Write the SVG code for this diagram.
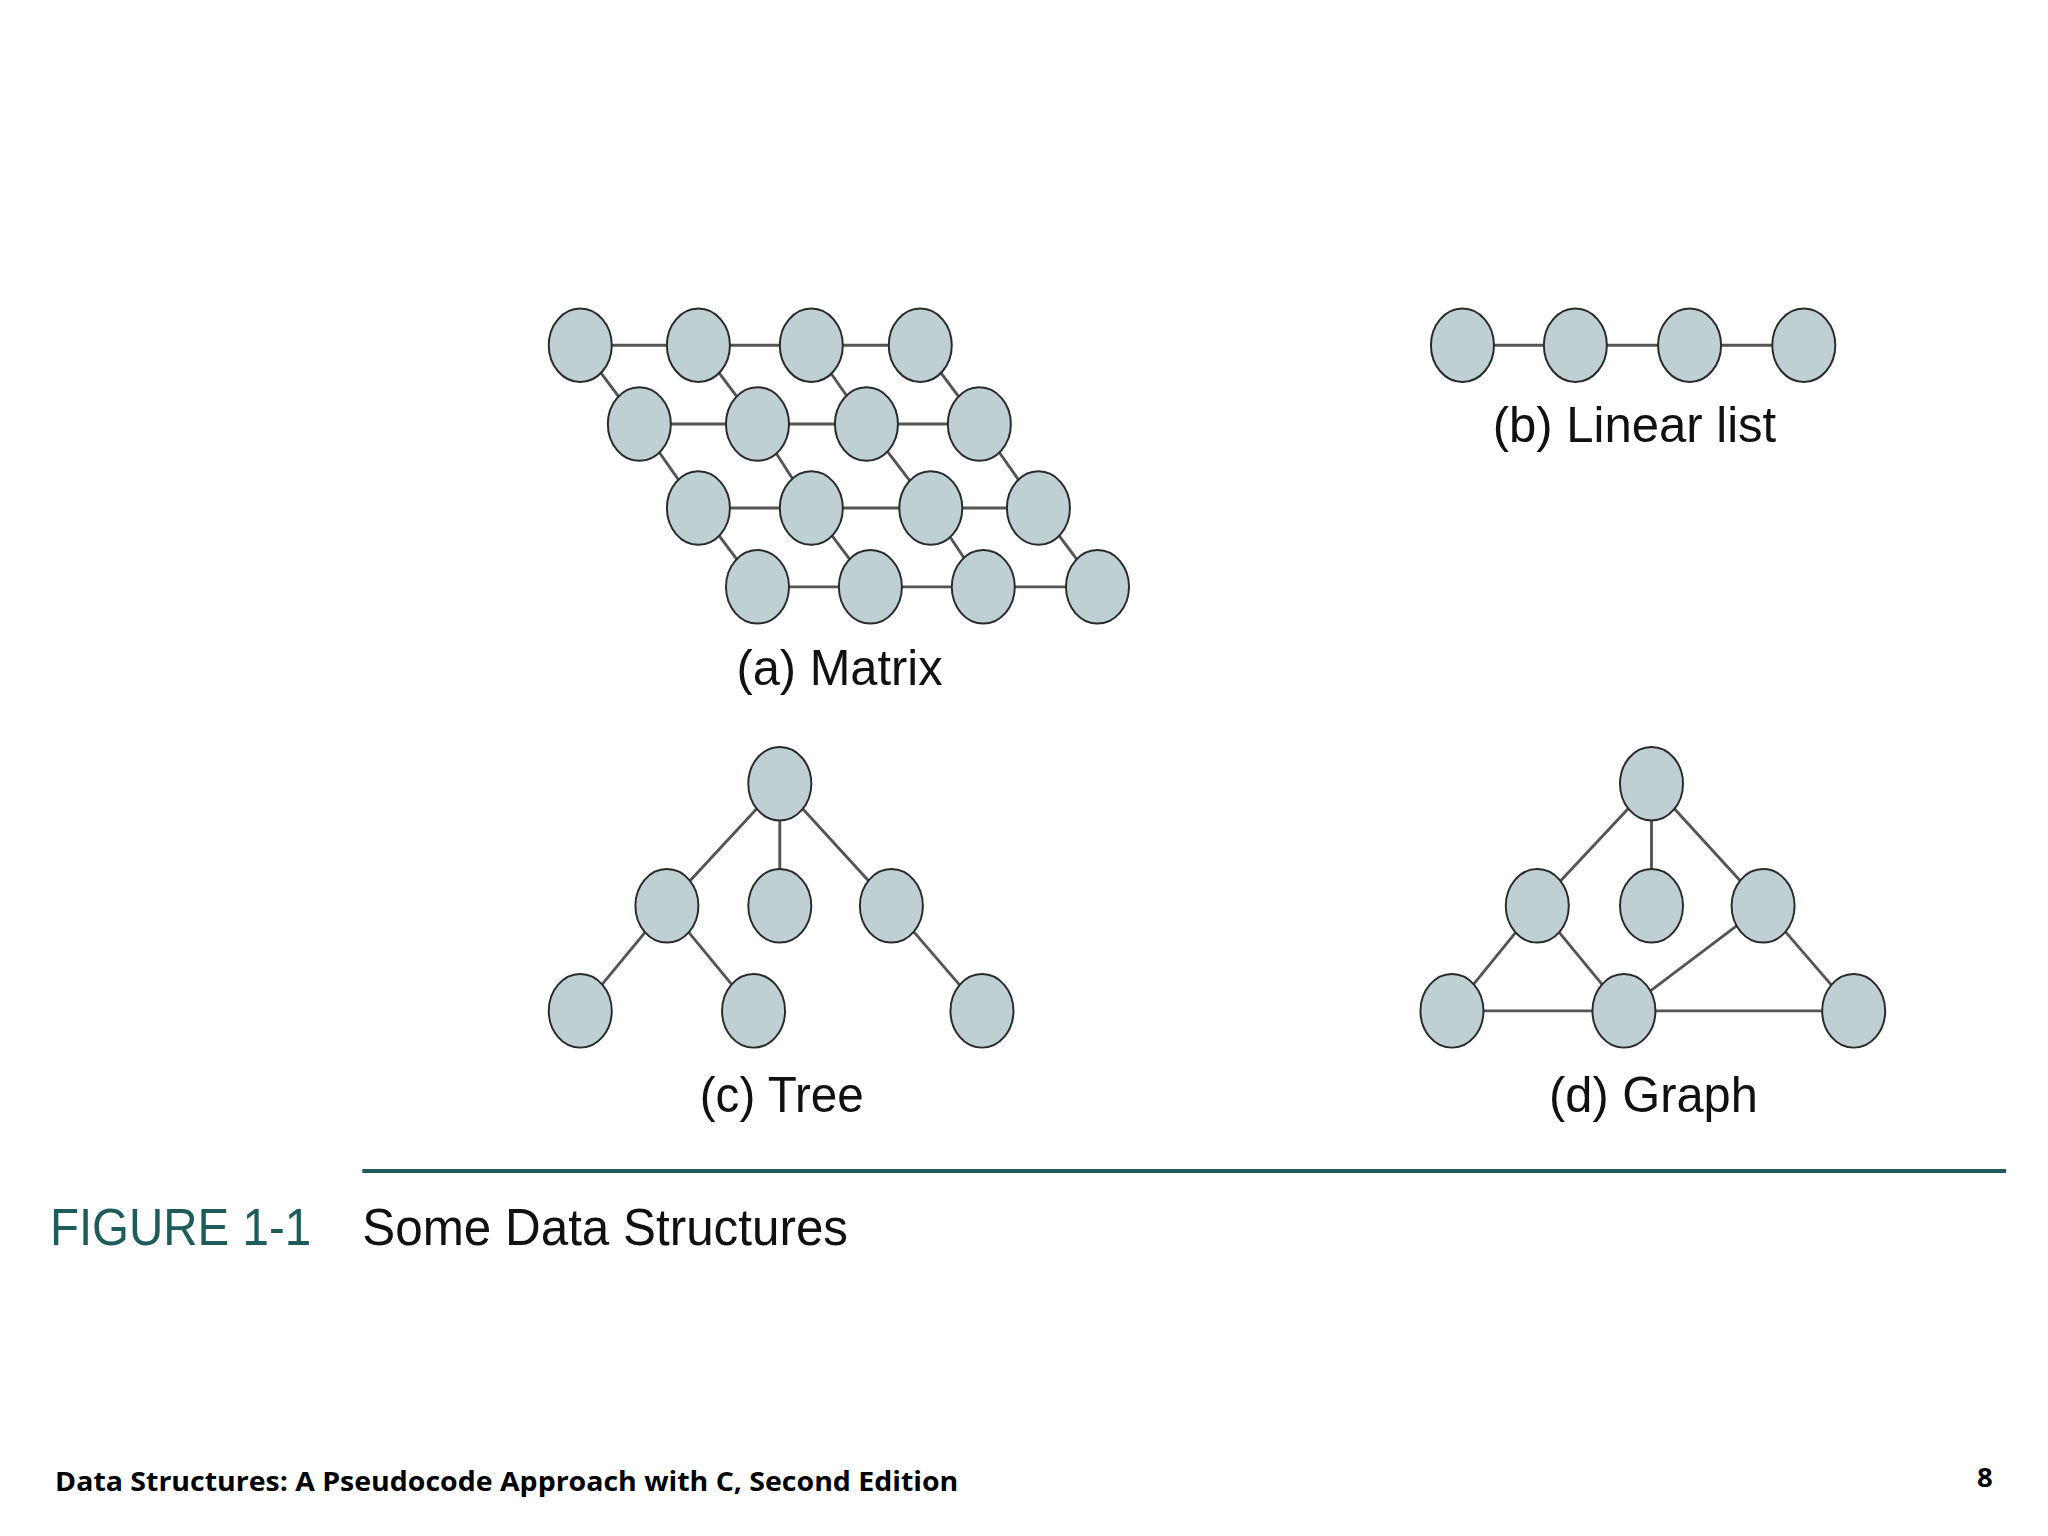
<svg xmlns="http://www.w3.org/2000/svg" width="2048" height="1536" viewBox="0 0 2048 1536">
<style>
.n{fill:#bfd0d3;stroke:#2a2a2a;stroke-width:1.5}
.e{stroke:#555;stroke-width:2.2;fill:none}
.l{font-family:"Liberation Sans",Arial,sans-serif;font-size:38px;fill:#111}
.t{font-family:"Liberation Sans",Arial,sans-serif;font-size:40px}
.f{font-family:"Open Sans",sans-serif;font-weight:bold;font-size:21px;fill:#000}
</style>
<defs><ellipse id="nd" class="n" rx="24" ry="28"/></defs>
<rect width="2048" height="1536" fill="#fff"/>
<g transform="scale(1.3128)">
<g id="connectors">
<path class="e" d="M442 263H701M487 323H746M532 387H791M577 447H836
M442 263L487 323M532 263L577 323M618 263L660 323M701 263L746 323
M487 323L532 387M577 323L618 387M660 323L709 387M746 323L791 387
M532 387L577 447M618 387L663 447M709 387L749 447M791 387L836 447
M1114 263H1374
M594 597L508 690M594 597L594 690M594 597L679 690M508 690L442 770M508 690L574 770M679 690L748 770
M1258 597L1171 690M1258 597L1258 690M1258 597L1343 690M1171 690L1106 770M1171 690L1237 770M1343 690L1237 770M1343 690L1412 770M1106 770H1412"/>
</g>
<g id="matrix">
<use href="#nd" x="442" y="263"/><use href="#nd" x="532" y="263"/><use href="#nd" x="618" y="263"/><use href="#nd" x="701" y="263"/>
<use href="#nd" x="487" y="323"/><use href="#nd" x="577" y="323"/><use href="#nd" x="660" y="323"/><use href="#nd" x="746" y="323"/>
<use href="#nd" x="532" y="387"/><use href="#nd" x="618" y="387"/><use href="#nd" x="709" y="387"/><use href="#nd" x="791" y="387"/>
<use href="#nd" x="577" y="447"/><use href="#nd" x="663" y="447"/><use href="#nd" x="749" y="447"/><use href="#nd" x="836" y="447"/>
<text class="l" x="561" y="522" textLength="157" lengthAdjust="spacingAndGlyphs">(a) Matrix</text>
</g>
<g id="linear">
<use href="#nd" x="1114" y="263"/><use href="#nd" x="1200" y="263"/><use href="#nd" x="1287" y="263"/><use href="#nd" x="1374" y="263"/>
<text class="l" x="1137" y="337" textLength="216" lengthAdjust="spacingAndGlyphs">(b) Linear list</text>
</g>
<g id="tree">
<use href="#nd" x="594" y="597"/><use href="#nd" x="508" y="690"/><use href="#nd" x="594" y="690"/><use href="#nd" x="679" y="690"/>
<use href="#nd" x="442" y="770"/><use href="#nd" x="574" y="770"/><use href="#nd" x="748" y="770"/>
<text class="l" x="533" y="847" textLength="125" lengthAdjust="spacingAndGlyphs">(c) Tree</text>
</g>
<g id="graph">
<use href="#nd" x="1258" y="597"/><use href="#nd" x="1171" y="690"/><use href="#nd" x="1258" y="690"/><use href="#nd" x="1343" y="690"/>
<use href="#nd" x="1106" y="770"/><use href="#nd" x="1237" y="770"/><use href="#nd" x="1412" y="770"/>
<text class="l" x="1180" y="847" textLength="159" lengthAdjust="spacingAndGlyphs">(d) Graph</text>
</g>
<line x1="276" y1="892" x2="1528" y2="892" stroke="#1d5c5a" stroke-width="3"/>
<text class="t" x="38" y="948" fill="#1d5c5a" textLength="199" lengthAdjust="spacingAndGlyphs">FIGURE 1-1</text>
<text class="t" x="276" y="948" fill="#111" textLength="370" lengthAdjust="spacingAndGlyphs">Some Data Structures</text>
<text class="f" x="42" y="1136" textLength="688" lengthAdjust="spacingAndGlyphs">Data Structures: A Pseudocode Approach with C, Second Edition</text>
<text class="f" x="1518" y="1133" text-anchor="end">8</text>
</g>
</svg>
